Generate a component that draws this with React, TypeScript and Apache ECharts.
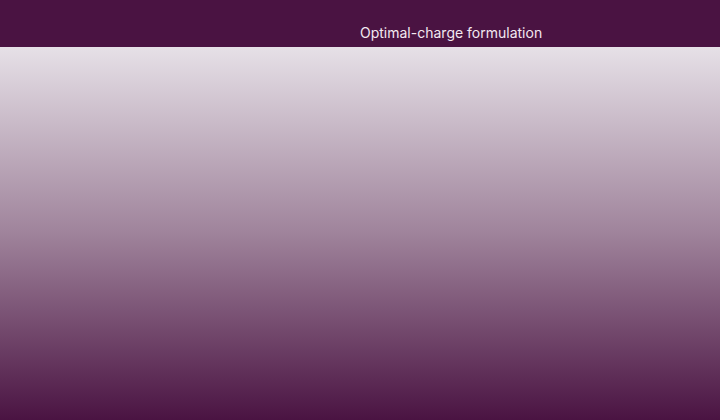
import { useEffect, useRef } from 'react';
import * as echarts from 'echarts';

const titleText = 'Optimal-charge formulation';
const categories: string[] = [];
const values: number[] = [];

const App = () => {
  const chartRef = useRef<HTMLDivElement>(null);

  useEffect(() => {
    if (!chartRef.current) return;
    document.body.style.margin = '0';

    const chart = echarts.init(chartRef.current, null, { renderer: 'svg' });

    const options: echarts.EChartsOption = {
      animation: false,
      backgroundColor: '#4a1342',
      title: {
        text: titleText,
        left: '50%',
        top: 25,
        padding: 0,
        textStyle: {
          color: '#f3e9f1',
          fontSize: 14,
          fontWeight: 'normal',
          fontFamily: 'Inter'
        }
      },
      grid: {
        show: true,
        left: 0,
        right: 0,
        top: 47,
        bottom: 0,
        borderWidth: 0,
        backgroundColor: new echarts.graphic.LinearGradient(0, 0, 0, 1, [
          { offset: 0, color: '#e6e0e7' },
          { offset: 0.5, color: '#9f839b' },
          { offset: 1, color: '#4a1342' }
        ])
      },
      xAxis: {
        type: 'category',
        data: categories,
        show: false
      },
      yAxis: {
        type: 'value',
        show: false
      },
      series: [
        {
          type: 'bar',
          data: values
        }
      ]
    };

    chart.setOption(options);

    return () => {
      chart.dispose();
    };
  }, []);

  return <div ref={chartRef} style={{ width: '720px', height: '420px' }} />;
};

export default App;
